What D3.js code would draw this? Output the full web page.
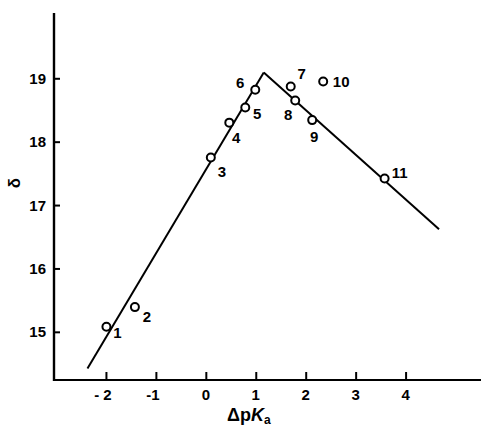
<!DOCTYPE html>
<html>
<head>
<meta charset="utf-8">
<script src="https://cdn.jsdelivr.net/npm/d3@7"></script>
<style>
  html, body { margin: 0; padding: 0; background: #fff; }
  svg { display: block; }
  text { font-family: "Liberation Sans", Arial, sans-serif; font-weight: bold; fill: #000; }
</style>
</head>
<body>
<svg id="chart" width="481" height="430"></svg>
<script>
// Measured points: ΔpKa vs δ, numbered 1–11
const pointIds = ["1","2","3","4","5","6","7","8","9","10","11"];
const dpKa   = [-1.99, -1.42, 0.10, 0.47, 0.79, 0.99, 1.70, 1.79, 2.13, 2.35, 3.58];
const delta  = [15.08, 15.39, 17.75, 18.30, 18.54, 18.82, 18.87, 18.65, 18.34, 18.95, 17.42];

// Two straight-line fits meeting at the apex
const fitLeftX  = [-2.37, 1.16];
const fitLeftY  = [14.42, 19.09];
const fitRightX = [1.16, 4.67];
const fitRightY = [19.09, 16.62];

const xTicks = [-2, -1, 0, 1, 2, 3, 4];
const xTickLabels = ["- 2", "-1", "0", "1", "2", "3", "4"];
const yTicks = [15, 16, 17, 18, 19];

const svg = d3.select("#chart");
const plotLeft = 54, plotRight = 481, plotTop = 13, plotBottom = 380;

const x = d3.scaleLinear().domain([-3.04, 5.51]).range([plotLeft, plotRight]);
const y = d3.scaleLinear().domain([14.24, 20.03]).range([plotBottom, plotTop]);

// Axes with inward ticks
const xAxis = d3.axisTop(x).tickValues(xTicks).tickSize(8).tickFormat("");
const yAxis = d3.axisRight(y).tickValues(yTicks).tickSize(6).tickFormat("");

const gx = svg.append("g").attr("transform", `translate(0,${plotBottom})`).call(xAxis);
const gy = svg.append("g").attr("transform", `translate(${plotLeft},0)`).call(yAxis);
[gx, gy].forEach(g => {
  g.select(".domain").remove();
  g.selectAll(".tick line").attr("stroke", "#000").attr("stroke-width", 2);
});

// Axis lines
svg.append("line").attr("x1", plotLeft).attr("x2", plotLeft).attr("y1", plotTop).attr("y2", plotBottom + 1)
  .attr("stroke", "#000").attr("stroke-width", 2.4);
svg.append("line").attr("x1", plotLeft - 1).attr("x2", plotRight).attr("y1", plotBottom).attr("y2", plotBottom)
  .attr("stroke", "#000").attr("stroke-width", 2.2);

// Tick labels
svg.append("g").selectAll("text").data(xTicks).join("text")
  .attr("x", d => x(d) + (d < 0 ? -3 : 0))
  .attr("y", plotBottom + 20)
  .attr("text-anchor", "middle")
  .attr("font-size", 15)
  .text((d, i) => xTickLabels[i]);

svg.append("g").selectAll("text").data(yTicks).join("text")
  .attr("x", plotLeft - 8)
  .attr("y", d => y(d) + 5.5)
  .attr("text-anchor", "end")
  .attr("font-size", 15)
  .text(d => d);

// Axis titles
const xt = svg.append("text").attr("x", 227).attr("y", 421).attr("font-size", 18);
xt.append("tspan").text("Δp");
xt.append("tspan").attr("font-style", "italic").text("K");
xt.append("tspan").attr("font-size", 12).attr("dy", 3).text("a");

svg.append("text")
  .attr("transform", `translate(20,183) rotate(-90)`)
  .attr("text-anchor", "middle")
  .attr("font-size", 17)
  .attr("font-weight", "normal")
  .text("δ");

// Fitted lines
const line = d3.line().x(d => x(d[0])).y(d => y(d[1]));
const fits = [
  d3.zip(fitLeftX, fitLeftY),
  d3.zip(fitRightX, fitRightY)
];
svg.append("g").selectAll("path").data(fits).join("path")
  .attr("d", line)
  .attr("fill", "none")
  .attr("stroke", "#000")
  .attr("stroke-width", 2);

// Points
const pts = pointIds.map((id, i) => ({ id, x: dpKa[i], y: delta[i] }));
svg.append("g").selectAll("circle").data(pts).join("circle")
  .attr("cx", d => x(d.x))
  .attr("cy", d => y(d.y))
  .attr("r", 4)
  .attr("fill", "#fff")
  .attr("stroke", "#000")
  .attr("stroke-width", 2);

// Point numbers, offset from each marker
const labelOffsets = {
  "1": [11, 11], "2": [12, 15], "3": [11, 19], "4": [7, 20], "5": [12, 12],
  "6": [-15, -2], "7": [11, -8], "8": [-7, 20], "9": [2, 22], "10": [18, 6], "11": [15, 0]
};
svg.append("g").selectAll("text").data(pts).join("text")
  .attr("x", d => x(d.x) + labelOffsets[d.id][0])
  .attr("y", d => y(d.y) + labelOffsets[d.id][1])
  .attr("text-anchor", "middle")
  .attr("font-size", 15)
  .text(d => d.id);
</script>
</body>
</html>
